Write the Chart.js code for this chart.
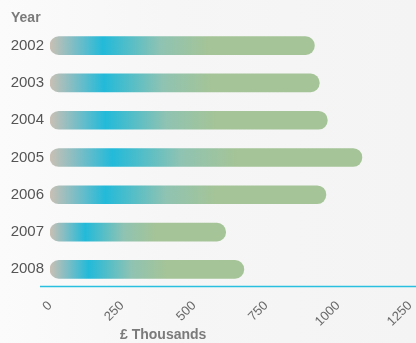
<!DOCTYPE html>
<html>
<head>
<meta charset="utf-8">
<script src="https://cdn.jsdelivr.net/npm/chart.js@4/dist/chart.umd.min.js"></script>
<style>
  html, body { margin: 0; padding: 0; }
  body { width: 416px; height: 343px; background: linear-gradient(90deg, #fbfbfb 0%, #f6f6f6 40%, #f4f4f4 100%); }
  #wrap { position: relative; width: 416px; height: 343px; }
</style>
</head>
<body>
<div id="wrap"><canvas id="chart" width="416" height="343"></canvas></div>
<script>
// data
const years = ["2002", "2003", "2004", "2005", "2006", "2007", "2008"];
const values = [918, 935, 963, 1083, 958, 610, 673];
const xTicks = [0, 250, 500, 750, 1000, 1250];
const yTitle = "Year";
const xTitle = "£ Thousands";

const FONT = "'Liberation Sans', Arial, sans-serif";

function barGradient(c) {
  const chart = c.chart;
  if (!chart.chartArea || !chart.scales.x) return "#a5c497";
  const x0 = chart.scales.x.getPixelForValue(0);
  const x1 = chart.scales.x.getPixelForValue(values[c.dataIndex]);
  const g = chart.ctx.createLinearGradient(x0, 0, x1, 0);
  g.addColorStop(0, "#c9c0b4");
  g.addColorStop(0.2, "#22bad9");
  g.addColorStop(0.42, "#8fc3b2");
  g.addColorStop(0.6, "#a5c497");
  g.addColorStop(1, "#a5c497");
  return g;
}

// extra text + the cyan baseline
const decor = {
  id: "decor",
  afterDraw(chart) {
    const { ctx, chartArea, width } = chart;
    ctx.save();
    ctx.strokeStyle = "#29bfe0";
    ctx.lineWidth = 1.5;
    ctx.beginPath();
    ctx.moveTo(40, chartArea.bottom - 1.5);
    ctx.lineTo(width, chartArea.bottom - 1.5);
    ctx.stroke();

    ctx.fillStyle = "#7a7a7a";
    ctx.font = "bold 14px " + FONT;
    ctx.textBaseline = "middle";
    ctx.textAlign = "left";
    ctx.fillText(yTitle, 11, 18);
    ctx.fillText(xTitle, 120, 335);
    ctx.restore();
  }
};

new Chart(document.getElementById("chart"), {
  type: "bar",
  data: {
    labels: years,
    datasets: [{
      data: values,
      backgroundColor: barGradient,
      borderRadius: 9,
      borderSkipped: false,
      barThickness: 18
    }]
  },
  options: {
    indexAxis: "y",
    responsive: false,
    animation: false,
    layout: { padding: { top: 27, right: 6, left: 0, bottom: 0 } },
    plugins: { legend: { display: false }, tooltip: { enabled: false } },
    scales: {
      x: {
        min: 0,
        max: 1250,
        afterBuildTicks: (s) => { s.ticks = xTicks.map(v => ({ value: v })); },
        afterFit: (s) => { s.height = 55; s.paddingRight = 0; s.paddingLeft = 0; },
        grid: { display: false, drawTicks: false },
        border: { display: false },
        ticks: {
          minRotation: 45,
          maxRotation: 45,
          padding: 10,
          color: "#6a6a6a",
          font: { family: FONT, size: 13 },
          callback: (v) => String(v)
        }
      },
      y: {
        afterFit: (s) => { s.width = 50; },
        grid: { display: false, drawTicks: false },
        border: { display: false },
        ticks: {
          padding: 6,
          color: "#555",
          font: { family: FONT, size: 15 }
        }
      }
    }
  },
  plugins: [decor]
});
</script>
</body>
</html>
